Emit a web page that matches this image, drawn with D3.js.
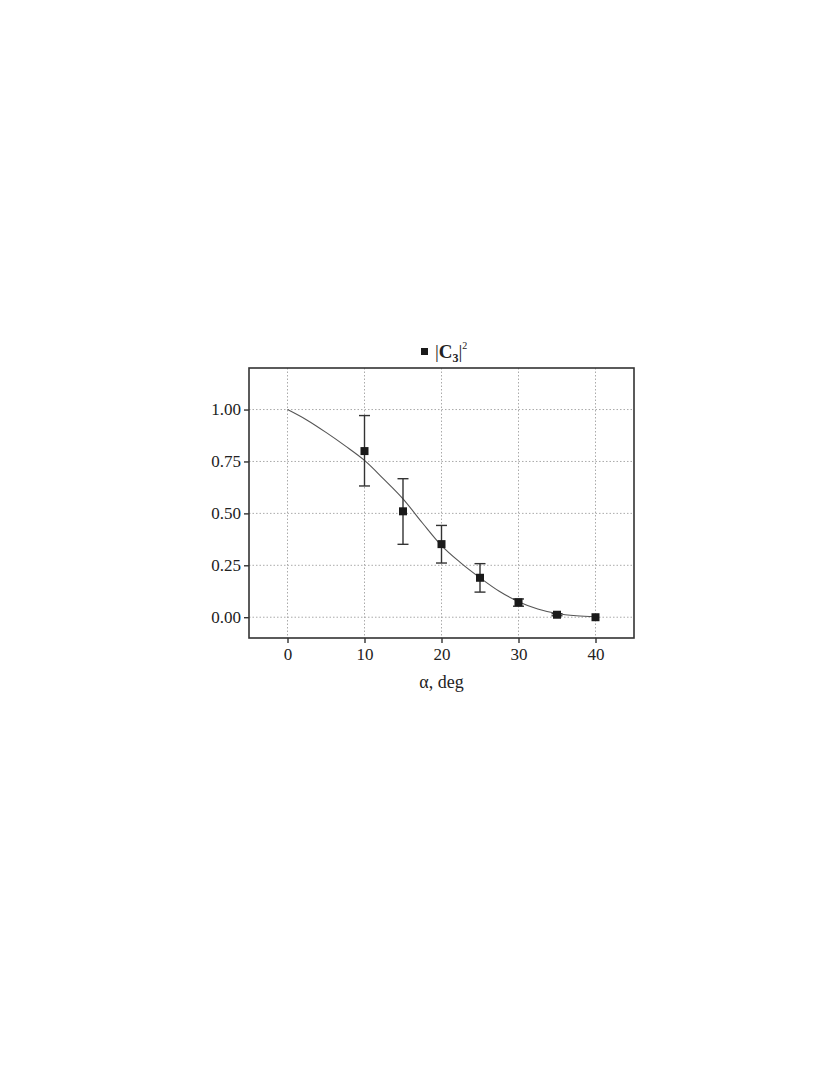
<!DOCTYPE html>
<html>
<head>
<meta charset="utf-8">
<script src="https://cdn.jsdelivr.net/npm/d3@7"></script>
<style>
  body { margin: 0; background: #fff; }
  text { font-family: "Liberation Serif", "DejaVu Serif", serif; fill: #222; }
</style>
</head>
<body>
<div id="chart"></div>
<script>
// measured points
var angles = [10, 15, 20, 25, 30, 35, 40];
var values = [0.80, 0.51, 0.352, 0.19, 0.072, 0.012, 0.0];
var errLow = [0.632, 0.351, 0.261, 0.121, 0.053, 0.007, -0.003];
var errHigh = [0.971, 0.667, 0.442, 0.258, 0.088, 0.017, 0.003];

// fitted curve
var curveX = [0, 2.5, 5, 7.5, 10, 12.5, 15, 17.5, 20, 22.5, 25, 27.5, 30, 32.5, 35, 37.5, 40];
var curveY = [1.0, 0.95, 0.89, 0.825, 0.755, 0.665, 0.57, 0.455, 0.345, 0.262, 0.19, 0.125, 0.075, 0.04, 0.018, 0.007, 0.002];

var xTicks = [0, 10, 20, 30, 40];
var yTicks = [0, 0.25, 0.5, 0.75, 1.0];

var svgWidth = 830;
var svgHeight = 1075;

var margin = { top: 368, left: 249, right: 196, bottom: 437 };
var width = svgWidth - margin.left - margin.right;
var height = svgHeight - margin.top - margin.bottom;

var svg = d3.select("#chart")
  .append("svg")
  .attr("width", svgWidth)
  .attr("height", svgHeight);

var chartGroup = svg.append("g")
  .attr("transform", `translate(${margin.left}, ${margin.top})`);

var xScale = d3.scaleLinear().domain([-5, 45]).range([0, width]);
var yScale = d3.scaleLinear().domain([-0.1, 1.2]).range([height, 0]);

// grid
chartGroup.selectAll(".vgrid")
  .data(xTicks)
  .enter()
  .append("line")
  .attr("x1", d => xScale(d)).attr("x2", d => xScale(d))
  .attr("y1", 0).attr("y2", height)
  .attr("stroke", "#aaa")
  .attr("stroke-width", 1)
  .attr("stroke-dasharray", "1.5,2");

chartGroup.selectAll(".hgrid")
  .data(yTicks)
  .enter()
  .append("line")
  .attr("x1", 0).attr("x2", width)
  .attr("y1", d => yScale(d)).attr("y2", d => yScale(d))
  .attr("stroke", "#aaa")
  .attr("stroke-width", 1)
  .attr("stroke-dasharray", "1.5,2");

// axes
var xAxis = d3.axisBottom(xScale).tickValues(xTicks).tickFormat(d3.format("d")).tickSize(5).tickPadding(5);
var yAxis = d3.axisLeft(yScale).tickValues(yTicks).tickFormat(d3.format(".2f")).tickSize(5).tickPadding(3);

var gx = chartGroup.append("g")
  .attr("transform", `translate(0, ${height})`)
  .call(xAxis);
var gy = chartGroup.append("g").call(yAxis);

[gx, gy].forEach(function(g) {
  g.select(".domain").remove();
  g.selectAll("line").attr("stroke", "#222").attr("stroke-width", 1.3);
  g.selectAll("text").attr("font-size", "17px").attr("fill", "#222")
    .style("font-family", "'Liberation Serif', serif");
});

// frame
chartGroup.append("rect")
  .attr("x", 0).attr("y", 0)
  .attr("width", width).attr("height", height)
  .attr("fill", "none")
  .attr("stroke", "#333")
  .attr("stroke-width", 1.6);

// fitted curve
var line = d3.line()
  .x(d => xScale(d[0]))
  .y(d => yScale(d[1]))
  .curve(d3.curveMonotoneX);

chartGroup.append("path")
  .datum(curveX.map((x, i) => [x, curveY[i]]))
  .attr("d", line)
  .attr("fill", "none")
  .attr("stroke", "#555")
  .attr("stroke-width", 1.1);

// error bars
var pts = angles.map((a, i) => ({ a: a, v: values[i], lo: errLow[i], hi: errHigh[i] }));
var cap = 5.5;

var errGroup = chartGroup.selectAll(".err")
  .data(pts.filter(d => d.hi - d.lo > 0.01))
  .enter()
  .append("g")
  .attr("stroke", "#333")
  .attr("stroke-width", 1.4);

errGroup.append("line")
  .attr("x1", d => xScale(d.a)).attr("x2", d => xScale(d.a))
  .attr("y1", d => yScale(d.lo)).attr("y2", d => yScale(d.hi));
errGroup.append("line")
  .attr("x1", d => xScale(d.a) - cap).attr("x2", d => xScale(d.a) + cap)
  .attr("y1", d => yScale(d.hi)).attr("y2", d => yScale(d.hi));
errGroup.append("line")
  .attr("x1", d => xScale(d.a) - cap).attr("x2", d => xScale(d.a) + cap)
  .attr("y1", d => yScale(d.lo)).attr("y2", d => yScale(d.lo));

// squares
var sq = 8;
chartGroup.selectAll(".pt")
  .data(pts)
  .enter()
  .append("rect")
  .attr("x", d => xScale(d.a) - sq / 2)
  .attr("y", d => yScale(d.v) - sq / 2)
  .attr("width", sq).attr("height", sq)
  .attr("fill", "#1a1a1a");

// legend
svg.append("rect")
  .attr("x", 421).attr("y", 348)
  .attr("width", 7).attr("height", 7)
  .attr("fill", "#1a1a1a");

var leg = svg.append("text")
  .attr("x", 435).attr("y", 358)
  .attr("font-size", "19px");
leg.append("tspan").text("|");
leg.append("tspan").attr("font-weight", "bold").text("C");
leg.append("tspan").attr("font-size", "12px").attr("font-weight", "bold").attr("dy", 4).text("3");
leg.append("tspan").attr("dy", -4).text("|");
leg.append("tspan").attr("font-size", "10px").attr("dy", -9).text("2");

// x title
chartGroup.append("text")
  .attr("transform", `translate(${xScale(20)}, ${height + 50})`)
  .style("text-anchor", "middle")
  .attr("font-size", "18px")
  .text("α, deg");
</script>
</body>
</html>
